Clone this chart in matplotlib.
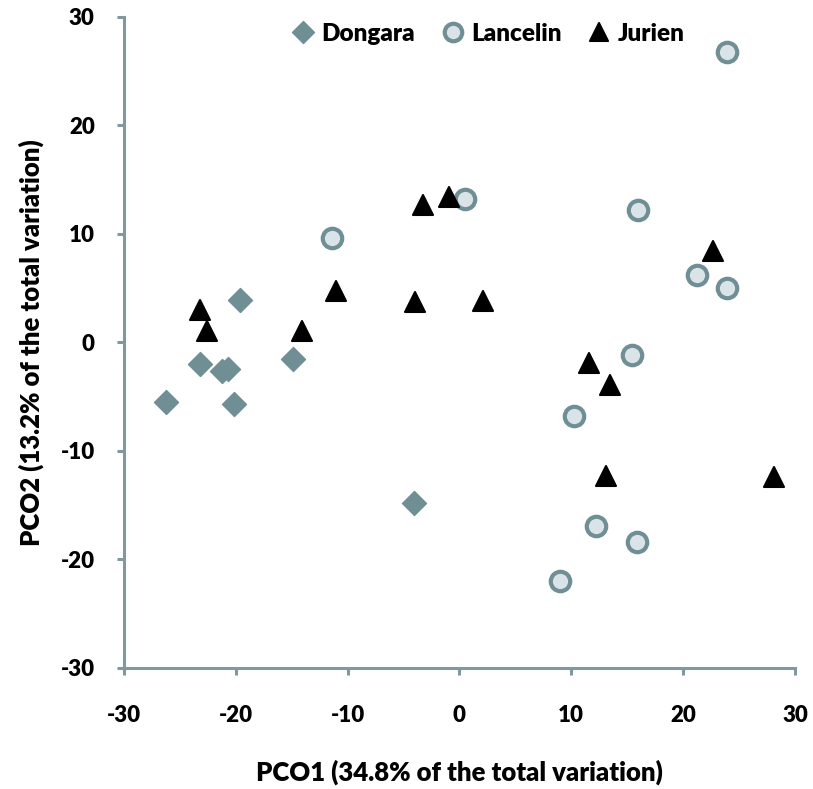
import matplotlib
matplotlib.use("Agg")
import matplotlib.pyplot as plt
from matplotlib.markers import MarkerStyle

# ------------------- DATA -------------------
dongara_x = [-26.2, -23.2, -19.6, -21.2, -20.7, -20.2, -14.9, -4.1]
dongara_y = [-5.5, -2.0, 3.9, -2.6, -2.4, -5.7, -1.5, -14.8]

lancelin_x = [23.9, 16.0, 21.2, 23.9, -11.4, 0.5, 15.4, 10.2, 12.2, 15.9, 9.0]
lancelin_y = [26.8, 12.2, 6.2, 5.0, 9.6, 13.2, -1.2, -6.8, -16.9, -18.4, -22.0]

jurien_x = [22.7, -3.3, -0.9, -11.0, -4.0, 2.1, 11.6, 13.5, 13.1, 28.1, -23.2, -22.6, -14.1]
jurien_y = [8.4, 12.7, 13.4, 4.7, 3.7, 3.8, -1.9, -3.9, -12.3, -12.4, 3.0, 1.1, 1.1]

ticks = [-30, -20, -10, 0, 10, 20, 30]
# --------------------------------------------

AXIS_COLOR = "#7f999e"
DIAMOND_COLOR = "#708f95"
CIRCLE_FACE = "#dae3e8"
FONT = "Lato"
WEIGHT = "heavy"

plt.rcParams["font.family"] = [FONT, "DejaVu Sans"]
plt.rcParams["font.weight"] = WEIGHT
plt.rcParams["axes.unicode_minus"] = False

fig = plt.figure(figsize=(8.13, 7.89), dpi=100)
ax = fig.add_axes([0.1525, 0.1534, 0.8253, 0.8251])

ax.plot(dongara_x, dongara_y, linestyle="none",
        marker=MarkerStyle("D", joinstyle="round"), markersize=12,
        color=DIAMOND_COLOR, markeredgewidth=1, markeredgecolor=DIAMOND_COLOR,
        label="Dongara", clip_on=False)
ax.plot(lancelin_x, lancelin_y, linestyle="none", marker="o", markersize=14,
        markerfacecolor=CIRCLE_FACE, markeredgecolor=DIAMOND_COLOR,
        markeredgewidth=3, label="Lancelin", clip_on=False)
ax.plot(jurien_x, jurien_y, linestyle="none",
        marker=MarkerStyle("^", joinstyle="round"), markersize=15,
        color="black", markeredgewidth=1.5, markeredgecolor="black",
        label="Jurien", clip_on=False)

ax.set_xlim(-30, 30)
ax.set_ylim(-30, 30)
ax.set_xticks(ticks)
ax.set_yticks(ticks)

for side in ["top", "right"]:
    ax.spines[side].set_visible(False)
for side in ["left", "bottom"]:
    ax.spines[side].set_color(AXIS_COLOR)
    ax.spines[side].set_linewidth(2.2)

ax.tick_params(axis="both", direction="out", length=5, width=2.2,
               color=AXIS_COLOR, labelsize=16, labelcolor="black")
ax.tick_params(axis="x", pad=22)
ax.tick_params(axis="y", pad=16)
for lab in ax.get_xticklabels() + ax.get_yticklabels():
    lab.set_fontweight(WEIGHT)

ax.set_xlabel("PCO1 (34.8% of the total variation)", fontsize=18.5,
              fontweight=WEIGHT, labelpad=24)
ax.set_ylabel("PCO2 (13.2% of the total variation)", fontsize=18.5,
              fontweight=WEIGHT, labelpad=12)

leg = ax.legend(loc="upper center", bbox_to_anchor=(0.541, 1.025), ncol=3,
                frameon=False, fontsize=17.5, handletextpad=0.2,
                columnspacing=1.0, handlelength=1.1, markerscale=0.9)
for t in leg.get_texts():
    t.set_fontweight(WEIGHT)

fig.savefig("out.png", dpi=100)
